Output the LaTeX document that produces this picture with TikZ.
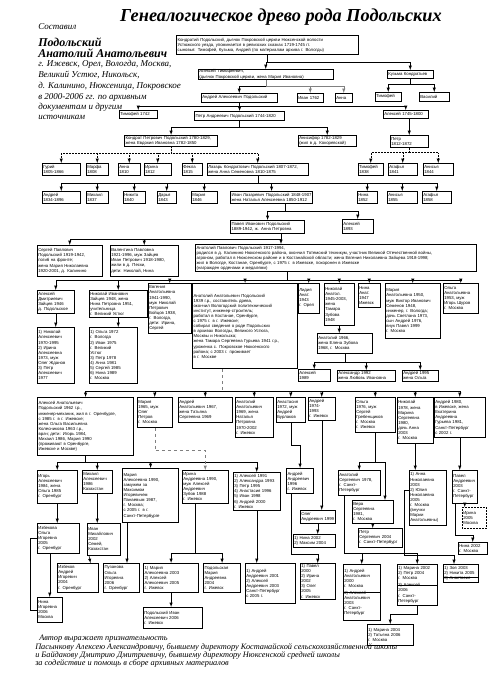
\documentclass[tikz,border=0pt]{standalone}
\usepackage{fontspec}
\setmainfont{Liberation Serif}
\newfontfamily\boxfont{Liberation Sans}
\usetikzlibrary{arrows}

\begin{document}
\begin{tikzpicture}[x=1pt,y=-1pt,line width=.5pt,>=latex,
  box/.style 2 args={draw,anchor=north west,align=left,inner xsep=1pt,inner ysep=.5pt,
    text width=#1pt,minimum height=#2pt,font=\boxfont\fontsize{4.3}{5.1}\selectfont},
  heavy/.style={line width=1.2pt},
  link/.style={->},
  intro/.style={anchor=west,inner sep=0pt,font=\itshape\fontsize{9}{9}\selectfont},
  introbig/.style={anchor=west,inner sep=0pt,font=\bfseries\itshape\fontsize{12}{12}\selectfont},
  thanks/.style={anchor=west,inner sep=0pt,font=\itshape\fontsize{8.3}{8.3}\selectfont}]
\useasboundingbox (0,0) rectangle (500,683);

% header
\node[font=\bfseries\itshape\fontsize{18.3}{18.3}\selectfont] (title) at (281,17) {Генеалогическое древо рода Подольских};
\node[intro] (made) at (38,27) {Составил};
\node[introbig] (auth1) at (38,42) {Подольский};
\node[introbig] (auth2) at (38,53) {Анатолий Анатольевич};
\node[intro] (src1) at (38,64) {г. Ижевск, Орел, Вологда, Москва,};
\node[intro] (src2) at (38,75) {Великий Устюг, Никольск,};
\node[intro] (src3) at (38,86) {д. Калинино, Нюксеница, Покровское};
\node[intro] (src4) at (38,97) {в 2000-2006 гг. по архивным};
\node[intro] (src5) at (38,107) {документам и другим};
\node[intro] (src6) at (38,117) {источникам};

% old generations
\node[box={180}{19},heavy] (t0) at (176,35) {Кондратий Подольский, дьячок Покровской церкви Нюксенской волости\\Устюжского уезда, упоминается в ревизских сказках 1719-1745 гг.\\сыновья: Тимофей, Кузьма, Андрей (по материалам архива г. Вологды)};
\node[box={133}{10}] (b1) at (198,69) {Алексей Тимофеевич,\\(дьячок Покровской церкви, жена Мария Ивановна)};
\node[box={44}{8}] (b2) at (387,70) {Кузьма Кондратьев};
\node[box={24}{9}] (b2a) at (375,92) {Тимофей};
\node[box={28}{9}] (b2b) at (419,92) {Василий};
\node[box={74}{9}] (c1) at (201,93) {Андрей Алексеевич Подольский};
\node[box={24}{9}] (c2) at (297,93) {Иван 1762};
\node[box={15}{9}] (c3) at (335,93) {Анна};
\node[box={36}{8}] (d1) at (119,110) {Тимофей 1742};
\node[box={88}{9},heavy] (d2) at (194,111) {Петр Андреевич Подольский 1744-1820};
\node[box={43}{8}] (d3) at (383,110) {Алексей 1745-1800};
\node[box={91}{11},heavy] (e1) at (124,135) {Кондрат Петрович Подольский 1780-1829,\\жена Евдокия Ивановна 1782-1850};
\node[box={56}{11}] (e2) at (298,135) {Анисифор 1782-1829\\(жил в д. Кокоревской)};
\node[box={36}{12}] (e3) at (390,135) {Петр\\1812-1872};

\node[box={36}{12}] (f1) at (42,163) {Гурий\\1805-1866};
\node[box={20}{12}] (f2) at (86,163) {Марфа\\1808};
\node[box={20}{12}] (f3) at (118,163) {Анна\\1810};
\node[box={25}{12}] (f4) at (144,163) {Ирина\\1812};
\node[box={18}{12}] (f5) at (182,163) {Фекла\\1815};
\node[box={99}{12}] (f6) at (207,163) {Лазарь Кондратович Подольский 1807-1872,\\жена Анна Семеновна 1810-1875};
\node[box={23}{12}] (f7) at (358,163) {Тимофей\\1838};
\node[box={27}{12}] (f8) at (388,163) {Агафья\\1841};
\node[box={28}{12}] (f9) at (423,163) {Анисья\\1844};

\node[box={36}{12}] (g1) at (42,191) {Андрей\\1834-1896};
\node[box={20}{12}] (g2) at (86,191) {Михаил\\1837};
\node[box={20}{12}] (g3) at (123,191) {Никита\\1840};
\node[box={17}{12}] (g4) at (157,191) {Дарья\\1843};
\node[box={24}{12}] (g5) at (191,191) {Мария\\1846};
\node[box={80}{12},heavy] (g6) at (230,191) {Иван Лазаревич Подольский 1848-1907\\жена Наталья Алексеевна 1850-1912};
\node[box={18}{12}] (g7) at (357,191) {Нина\\1852};
\node[box={28}{12}] (g8) at (387,191) {Анисья\\1855};
\node[box={27}{12}] (g9) at (422,191) {Агафья\\1858};

\node[box={72}{13},heavy] (h1) at (230,220) {Павел Иванович Подольский\\1889-1942, ж. Анна Петровна};
\node[box={29}{14}] (h2) at (342,219) {Алексей\\1893};

\node[box={279}{27},heavy] (i1) at (195,244) {Анатолий Павлович Подольский 1917-1994,\\родился в д. Калинино Нюксенского района, окончил Тотемский техникум, участник Великой Отечественной войны,\\агроном, работал в Нюксенском районе и в Костанайской области; жена Евгения Николаевна Зайцева 1918-1998;\\жил в Вологде, Костанае, Оренбурге, с 1975 г. в Ижевске, похоронен в Ижевске\\(награжден орденами и медалями)};
\node[box={63}{31}] (j1) at (37,245) {Сергей Павлович\\Подольский 1919-1942,\\погиб на фронте;\\жена Мария Николаевна\\1920-2001, д. Калинино};
\node[box={66}{31}] (j2) at (110,245) {Валентина Павловна\\1921-1996, муж Зайцев\\Иван Петрович 1918-1980,\\жили в д. Пески,\\дети: Николай, Нина};

% children of Anatoly Pavlovich
\node[box={35}{23}] (k1) at (37,290) {Алексей\\Дмитриевич\\Зайцев 1946\\д. Подольское};
\node[box={56}{27}] (k2) at (89,290) {Николай Иванович\\Зайцев 1948, жена\\Нина Петровна 1951,\\учительница\\г. Великий Устюг};
\node[box={41}{50}] (k3) at (148,283) {Евгения\\Анатольевна\\1941-1990,\\муж Николай\\Петрович\\Бойцов 1938,\\г. Вологда,\\дети: Ирина,\\Сергей};
\node[box={103}{85},heavy] (k4) at (192,283) {Анатолий Анатольевич Подольский\\1939 г.р., составитель древа,\\окончил Вологодский политехнический\\институт, инженер-строитель;\\работал в Костанае, Оренбурге,\\с 1975 г. в г. Ижевске;\\собирал сведения о роде Подольских\\в архивах Вологды, Великого Устюга,\\Москвы и Никольска;\\жена Тамара Сергеевна Гурьева 1941 г.р.,\\уроженка с. Покровское Нюксенского\\района; с 2003 г. проживает\\в г. Москве};
\node[box={19}{30}] (k5) at (298,283) {Лидия\\Анат.\\1943\\г. Орел};
\node[box={28}{42}] (k6) at (324,283) {Николай\\Анатол.\\1945-2003,\\жена\\Тамара\\Зубова\\1948};
\node[box={20}{24}] (k7) at (358,283) {Нина\\Анат.\\1947\\Ижевск};
\node[box={53}{55}] (k8) at (385,283) {Мария\\Анатольевна 1950,\\муж Виктор Иванович\\Семенов 1948,\\инженер, г. Вологда;\\дочь Светлана 1973,\\сын Андрей 1976,\\внук Павел 1999\\г. Москва};
\node[box={33}{30}] (k9) at (443,283) {Ольга\\Анатольевна\\1953, муж\\Игорь Шуров\\г. Москва};

\node[box={35}{56}] (l1) at (37,327) {1) Николай\\Алексеевич\\1970-1995\\2) Ирина\\Алексеевна\\1973, муж\\Олег Жданов\\3) Петр\\Алексеевич\\1977};
\node[box={46}{56}] (l2) at (89,327) {1) Ольга 1972\\г. Вологда\\2) Иван 1975\\г. Великий\\Устюг\\3) Петр 1978\\4) Анна 1981\\5) Сергей 1985\\6) Нина 1989\\г. Москва};
\node[box={53}{20}] (m1) at (317,333) {Анатолий 1966,\\жена Елена Зубова\\1968, г. Москва};
\node[box={30}{12}] (m2) at (298,369) {Алексей\\1989};
\node[box={56}{11}] (m3) at (337,370) {Александр 1992\\жена Любовь Ивановна};
\node[box={34}{11}] (m4) at (402,370) {Андрей 1995\\жена Ольга};

% grandchildren
\node[box={94}{58},heavy] (n1) at (37,397) {Алексей Анатольевич\\Подольский 1962 г.р.,\\инженер-механик, жил в г. Оренбурге,\\с 1985 г. в г. Ижевске;\\жена Ольга Васильевна\\Колесникова 1963 г.р.,\\врач; дети: Игорь 1984,\\Михаил 1986, Мария 1990\\(проживают в Оренбурге,\\Ижевске и Москве)};
\node[box={33}{30}] (n2) at (137,397) {Мария\\1965, муж\\Олег\\Петров\\г. Москва};
\node[box={52}{25}] (n3) at (178,397) {Андрей\\Анатольевич 1967,\\жена Татьяна\\Сергеевна 1969};
\node[box={36}{40}] (n4) at (235,397) {Анатолий\\Анатольевич\\1969, жена\\Наталья\\Петровна\\1970-2002\\г. Ижевск};
\node[box={27}{25}] (n5) at (276,397) {Анастасия\\1972, муж\\Андрей\\Бурлаков};
\node[box={25}{23}] (n6) at (308,397) {Андрей\\1974-\\1993\\г. Ижевск};
\node[box={38}{35}] (n7) at (355,397) {Ольга\\1976, муж\\Сергей\\Гребенщиков\\г. Москва\\г. Ижевск};
\node[box={34}{46}] (n8) at (397,397) {Николай\\1978, жена\\Марина\\Сергеевна\\1980,\\дочь Анна\\2003\\г. Москва};
\node[box={49}{40}] (n9) at (434,397) {Андрей 1980,\\в Ижевске, жена\\Екатерина\\Андреевна\\Гурьева 1981,\\Санкт-Петербург\\с 2002 г.};

\node[box={38}{33}] (o1) at (37,470) {Игорь\\Алексеевич\\1984, жена\\Ольга 1985\\г. Оренбург};
\node[box={28}{23}] (o2) at (82,470) {Михаил\\Алексеевич\\1986\\Казахстан};
\node[box={54}{54},heavy] (o3) at (122,468) {Мария\\Алексеевна 1990,\\замужем за\\Максимом\\Игоревичем\\Панаевым 1987,\\г. Москва;\\с 2005 г. в г.\\Санкт-Петербурге};
\node[box={44}{33}] (o4) at (182,470) {Ирина\\Андреевна 1990,\\муж Алексей\\Андреевич\\Зубов 1988\\г. Ижевск};
\node[box={45}{38}] (o5) at (233,472) {1) Алексей 1991\\2) Александра 1993\\3) Петр 1995\\4) Анастасия 1996\\5) Иван 1998\\6) Андрей 2000\\г. Ижевск};
\node[box={25}{25},heavy] (o6) at (286,468) {Андрей\\Андреевич\\1996\\г. Ижевск};
\node[box={40}{25}] (p1) at (338,470) {Анатолий\\Сергеевич 1978,\\г. Санкт-\\Петербург};
\node[box={39}{23}] (p2) at (352,500) {Вера\\Сергеевна\\1981,\\г. Москва};
\node[box={42}{19}] (p3) at (358,528) {Петр\\Сергеевич 2004\\г. Санкт-Петербург};
\node[box={35}{55}] (p4) at (409,470) {1) Анна\\Николаевна\\2003\\2) Юлия\\Николаевна\\2005\\г. Москва\\(внучки\\Марии\\Анатольевны)};
\node[box={23}{33}] (p5) at (452,470) {Павел\\Андреевич\\2003\\г. Санкт-\\Петербург};
\node[box={33}{13}] (q1) at (300,510) {Олег\\Андреевич 1999};
\node[box={40}{13}] (q2) at (293,534) {1) Нина 2002\\2) Максим 2004};
\node[box={22}{21},densely dotted] (q3) at (462,507) {Ирина\\2005\\Москва};
\node[box={27}{12}] (q4) at (458,542) {Нина 2002\\г. Москва};

% youngest
\node[box={40}{30}] (s1) at (37,523) {Избекова\\Ольга\\Игоревна\\2005\\г. Оренбург};
\node[box={31}{32}] (s2) at (87,523) {Иван\\Михайлович\\2002\\Семей,\\Казахстан};
\node[box={39}{29}] (r1) at (57,563) {Избеков\\Андрей\\Игоревич\\2004\\г. Оренбург};
\node[box={34}{29},heavy] (r2) at (103,563) {Пузанова\\Ольга\\Игоревна\\2006\\г. Оренбург};
\node[box={53}{29},heavy] (r3) at (143,563) {1) Мария\\Алексеевна 2003\\2) Алексей\\Алексеевич 2005\\г. Ижевск};
\node[box={35}{29},heavy] (r4) at (203,563) {Подольская\\Мария\\Андреевна\\2004\\г. Ижевск};
\node[box={48}{40}] (r5) at (245,563) {1) Андрей\\Андреевич 2001\\2) Алексей\\Андреевич 2003\\Санкт-Петербург\\с 2005 г.};
\node[box={33}{36}] (r6) at (300,563) {1) Павел\\2000\\2) Ирина\\2002\\3) Олег\\2005\\г. Ижевск};
\node[box={35}{56}] (r7) at (343,564) {1) Андрей\\Анатольевич\\2000\\г. Москва\\[2pt]2) Алексей\\Анатольевич\\2003\\г. Санкт-\\Петербург};
\node[box={38}{41}] (r8) at (397,564) {1) Марина 2002\\2) Петр 2004\\г. Москва\\[2pt]3) Алексей\\2006\\г. Санкт-Петербург};
\node[box={33}{18}] (r9) at (443,564) {1) Зоя 2003\\2) Никита 2005\\3) Анастасия};
\node[box={23}{25}] (s3) at (37,597) {Нина\\Игоревна\\2006\\Москва};
\node[box={57}{21}] (s4) at (143,607) {Подольский Иван\\Алексеевич 2006\\г. Ижевск};
\node[box={44}{21}] (s5) at (367,624) {1) Марина 2004\\2) Татьяна 2006\\г. Москва};
\draw (r7.west) -- (r7.east);
\draw (r8.west) -- (r8.east);
\draw ([yshift=-4pt]r9.west) -- ([yshift=-4pt]r9.east);

% footer
\node[thanks] (thanks1) at (39,639) {Автор выражает признательность};
\node[thanks] (thanks2) at (35,647) {Пасынкову Алексею Александровичу, бывшему директору Костанайской сельскохозяйственной школы};
\node[thanks] (thanks3) at (35,655) {и Байдакову Дмитрию Дмитриевичу, бывшему директору Нюксенской средней школы};
\node[thanks] (thanks4) at (35,663) {за содействие и помощь в сборе архивных материалов};

% connectors
\foreach \c in {b1,b2} \draw[link] (t0.south) -- ++(0,7) -| (\c.north);
\foreach \c in {b2a,b2b} \draw[link] (b2.south) -- ++(0,6) -| (\c.north);
\draw[link] (b1.south) -- ++(0,7) -| (c1.north);
\foreach \c in {c2,c3} \draw[link,gray] (b1.south) -- ++(0,7) -| (\c.north);
\foreach \c in {d1,d2,d3} \draw[link] (c1.south) -- ++(0,4) -| (\c.north);
\foreach \c in {e1,e2} \draw[link] (d2.south) -- ++(0,6) -| (\c.north);
\draw[link] (e3.north |- d3.south) -- (e3.north);
\foreach \c in {f1,f2,f3,f4,f5,f6} \draw[link,densely dotted] (e1.south) -- ++(0,6) -| (\c.north);
\foreach \c in {f7,f8,f9} \draw[link,densely dotted] (e3.south) -- ++(0,5) -| (\c.north);
\foreach \c in {g1,g2,g3,g4,g5,g6,g7,g8,g9} \draw[link] (f6.south) -- ++(0,8) -| (\c.north);
\foreach \c in {h1,h2} \draw[link] ([xshift=55pt]g6.south west) -- ++(0,7) -| (\c.north);
\coordinate (h1d) at ([xshift=51pt]h1.south west);
\draw[link] (h1d) -- (h1d |- i1.north);
\foreach \c in {j1,j2} \draw[link] (h1d) -- ++(0,5) -| (\c.north);
\foreach \c in {k1,k2,k3,k4,k5,k6,k7,k8,k9} \draw[link] ([xshift=92pt]i1.south west) -- ++(0,8) -| (\c.north);
\draw[link] (k1.south) -- (k1.south |- l1.north);
\draw[link] (k2.south) -- (k2.south |- l2.north);
\draw[link] (k6.south) -- (k6.south |- m1.north);
\foreach \c in {m2,m3,m4} \draw[link] (m1.south) -- ++(0,9) -| (\c.north);
\draw[gray,dashed] ([xshift=30pt]k4.south west) -- ++(0,22) coordinate (nbus);
\foreach \c in {n1,n2,n3,n4,n5,n6,n7,n8,n9} \draw[link] (nbus) -| (\c.north);
\foreach \c in {o1,o2,o3,o5} \draw[link] (n1.south) -- ++(0,6) -| (\c.north);
\draw[link,gray,dashed] (n2.south) -- ++(0,23) -| (o4.north);
\draw[link] (n5.south) -- ++(0,23) -| (o6.north);
\draw[link] (n6.south) -- (n6.south |- q1.north);
\draw[link] (q1.south) -- (q1.south |- q2.north);
\draw[link] ([xshift=5pt]o6.south west) -- ++(0,60) -| (r6.north);
\draw[link] (n7.south) -- ++(0,30) -| (p1.north);
\draw[link] (n7.south) -- ++(0,30) -| ([xshift=33pt]p2.north west);
\foreach \c in {r7,r8} \draw[link] ([xshift=6pt]p1.south west) -- ++(0,58) -| (\c.north);
\draw[link] (p2.south) -- (p2.south |- p3.north);
\draw[link] (n8.south) -- (n8.south |- p4.north);
\draw[link] (n9.south) -- (n9.south |- p5.north);
\draw[link] (p5.south) -- (p5.south |- q3.north);
\draw[link] ([xshift=3pt]p5.south west) -- ++(0,32) -| (q4.north);
\draw[link] ([yshift=8pt]p4.west) -- ++(-5,0) -- ++(0,65) -| ([xshift=11pt]r9.north west);
\draw[link] (r8.south) -- ++(0,9) -| (s5.north);
\draw[link] (o1.south) -- (o1.south |- s1.north);
\draw[link] (o2.south) -- (o2.south |- s2.north);
\draw[link] (s3.north |- s1.south) -- (s3.north);
\draw (s1.west) -- ++(-7,0) |- (s3.west);
\draw[link] ([xshift=2pt]s2.south west) -- ([xshift=-8pt]r1.north east);
\coordinate (o3d) at ([xshift=5pt]o3.south west);
\draw[link] (o3d) -- (o3d |- r2.north);
\foreach \c in {r3,r4} \draw[link] ([xshift=13pt]o4.south west) -- ++(0,50) -| (\c.north);
\draw[link] (o5.south) -- (o5.south |- r5.north);
\draw[link] (r3.south) -- (r3.south |- s4.north);
\end{tikzpicture}
\end{document}
